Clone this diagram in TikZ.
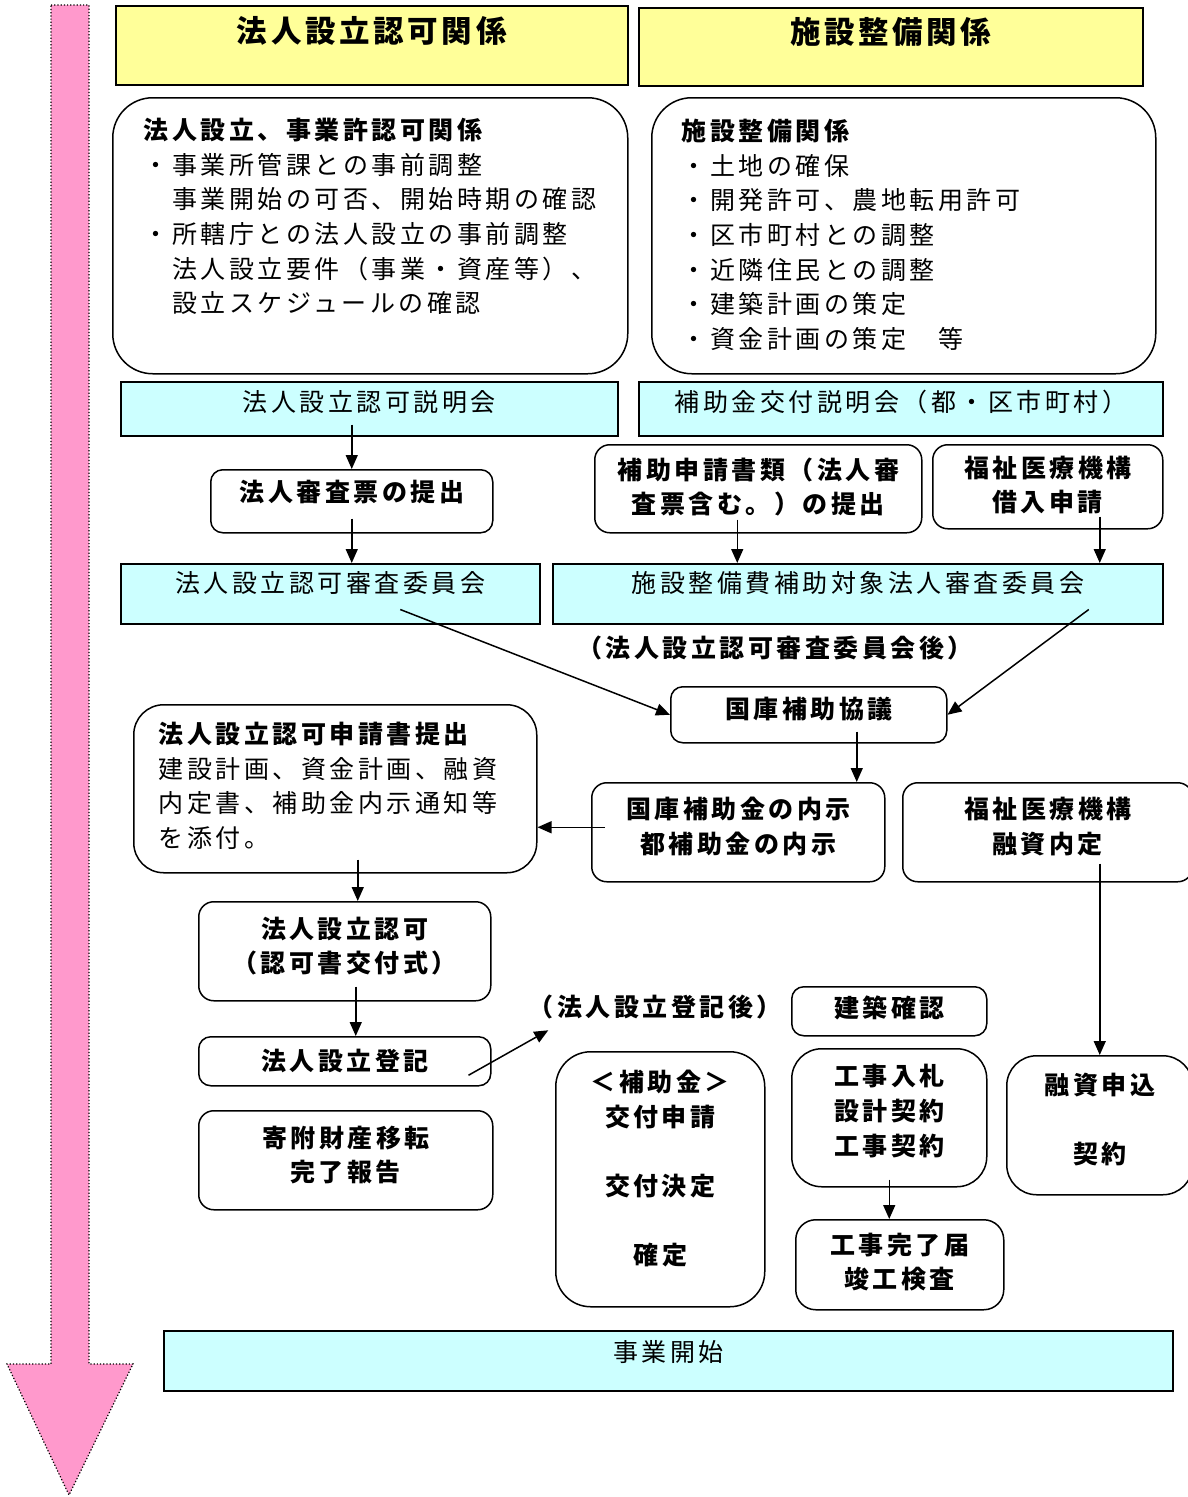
\documentclass[tikz,border=0pt]{standalone}
\usepackage{fontspec}
\setmainfont{Noto Sans CJK JP}[LetterSpace=14]
\newfontfamily\titlefont{Noto Sans CJK JP}[LetterSpace=12]
\usetikzlibrary{arrows.meta}
\definecolor{titleyellow}{RGB}{255,255,153}
\definecolor{meetingcyan}{RGB}{204,255,255}
\definecolor{flowpink}{RGB}{255,153,204}
\newcommand{\bodyfont}{\fontsize{25pt}{34.6pt}\selectfont}
% extra empty line of the given (negative) skip, lifts the text a little
\newcommand{\lift}[1]{\\[#1]\mbox{}}

\begin{document}
\begin{tikzpicture}[x=1pt, y=-1pt,
    every node/.style={font=\bodyfont},
    titlebox/.style={draw, line width=1.5pt, fill=titleyellow, anchor=north west, inner sep=0pt,
      font=\titlefont\fontsize{30.5pt}{34pt}\selectfont\bfseries, text height=26pt, text depth=31.6pt},
    meetbox/.style={draw, line width=1.5pt, fill=meetingcyan, anchor=north west, inner sep=0pt, text height=20.5pt},
    stepbox/.style={draw, line width=1.5pt, rounded corners=#1, anchor=north west, inner sep=0pt,
      align=center, font=\bodyfont\bfseries},
    stepbox/.default=15pt,
    notebox/.style={draw, line width=1.5pt, rounded corners=40pt, anchor=north west, inner ysep=0pt, align=left},
    later/.style={font=\bodyfont\bfseries, inner sep=0pt},
    flow/.style={line width=1.5pt, -{Triangle[length=14pt,width=12pt]}}]
    \useasboundingbox (0,0) rectangle (1188,1497);

    % time line
    \draw[fill=flowpink, dotted, line width=1.2pt] (51,5) -- (89,5) -- (89,1364) -- (133,1364)
        -- (69,1495) -- (7,1364) -- (51,1364) -- cycle;

    % headings
    \node[titlebox, minimum width=512pt, minimum height=79pt] (titleL) at (115,5) {法人設立認可関係};
    \node[titlebox, minimum width=504pt, minimum height=78pt] (titleR) at (638,7) {施設整備関係};

    % preparation
    \node[notebox, text width=453pt, inner xsep=31pt, minimum height=276pt] (kankeiL) at (112,97)
        {{\bfseries 法人設立、事業許認可関係}\\・事業所管課との事前調整\\　事業開始の可否、開始時期の確認\\
         ・所轄庁との法人設立の事前調整\\　法人設立要件（事業・資産等）、\\　設立スケジュールの確認\\\mbox{}\lift{-28.6pt}};
    \node[notebox, text width=444pt, inner xsep=30pt, minimum height=276pt] (kankeiR) at (651,97)
        {{\bfseries 施設整備関係}\\・土地の確保\\・開発許可、農地転用許可\\・区市町村との調整\\
         ・近隣住民との調整\\・建築計画の策定\\・資金計画の策定　等\lift{-30.6pt}};

    % briefings
    \node[meetbox, minimum width=497pt, minimum height=54pt, text depth=14.6pt] (setsumeiL) at (120,381) {法人設立認可説明会};
    \node[meetbox, minimum width=524pt, minimum height=54pt, text depth=14.6pt] (setsumeiR) at (638,381) {補助金交付説明会（都・区市町村）};

    \node[stepbox=12pt, minimum width=282pt, minimum height=63pt, text height=20.5pt, text depth=19.6pt] (shinsahyo) at (210,469) {法人審査票の提出};
    \node[stepbox, minimum width=327pt, minimum height=88pt] (hojoshinsei) at (594,444) {補助申請書類（法人審\\査票含む。）の提出\lift{-28.6pt}};
    \node[stepbox, minimum width=230pt, minimum height=84pt] (kariire) at (932,444) {福祉医療機構\\借入申請\lift{-28.6pt}};

    % committees
    \node[meetbox, minimum width=419pt, minimum height=60pt, text depth=22.6pt] (iinkaiL) at (120,563) {法人設立認可審査委員会};
    \node[meetbox, minimum width=610pt, minimum height=60pt, text depth=22.6pt] (iinkaiR) at (552,563) {施設整備費補助対象法人審査委員会};
    \node[later] (atoIinkai) at (775,648) {（法人設立認可審査委員会後）};

    \node[stepbox=12pt, minimum width=276pt, minimum height=56pt, text height=20.5pt, text depth=12.6pt] (kyogi) at (670,686) {国庫補助協議};
    \node[notebox, rounded corners=30pt, text width=353pt, inner xsep=25pt, minimum height=168pt] (shinseisho) at (133,704)
        {{\bfseries 法人設立認可申請書提出}\\建設計画、資金計画、融資\\内定書、補助金内示通知等\\を添付。\lift{-26.6pt}};
    \node[stepbox, minimum width=293pt, minimum height=99pt] (naiji) at (591,782) {国庫補助金の内示\\都補助金の内示\lift{-20.6pt}};
    \node[stepbox, minimum width=290pt, minimum height=99pt] (yushinaitei) at (902,782) {福祉医療機構\\融資内定\lift{-20.6pt}};

    % incorporation
    \node[stepbox, minimum width=292pt, minimum height=99pt] (ninka) at (198,901) {法人設立認可\\（認可書交付式）\lift{-21.6pt}};
    \node[stepbox=12pt, minimum width=292pt, minimum height=49pt] (toki) at (198,1036) {法人設立登記};
    \node[stepbox, minimum width=294pt, minimum height=99pt] (kifu) at (198,1110) {寄附財産移転\\完了報告\lift{-21.6pt}};
    \node[later] (atoToki) at (655,1007) {（法人設立登記後）};

    % construction
    \node[stepbox=12pt, minimum width=195pt, minimum height=49pt, text height=20.5pt, text depth=7.6pt] (kenchiku) at (791,986) {建築確認};
    \node[stepbox=35pt, minimum width=209pt, minimum height=255pt] (hojokin) at (555,1051)
        {＜補助金＞\\交付申請\\\mbox{}\\交付決定\\\mbox{}\\確定\lift{-10.6pt}};
    \node[stepbox=30pt, minimum width=195pt, minimum height=138pt] (koji) at (791,1048) {工事入札\\設計契約\\工事契約\lift{-18.6pt}};
    \node[stepbox=20pt, minimum width=208pt, minimum height=90pt] (kanryo) at (795,1219) {工事完了届\\竣工検査\lift{-26.6pt}};
    \node[stepbox=30pt, minimum width=186pt, minimum height=139pt] (yushimoshikomi) at (1006,1055) {融資申込\\\mbox{}\\契約\lift{-20.6pt}};

    \node[meetbox, minimum width=1009pt, minimum height=60pt, text depth=18.6pt] (kaishi) at (163,1330) {事業開始};

    % arrows
    \draw[flow] ([yshift=12pt]setsumeiL.south -| shinsahyo.north) -- (shinsahyo.north);
    \draw[flow] ([yshift=15pt]shinsahyo.south) -- (shinsahyo.south |- iinkaiL.north);
    \draw[flow] ([xshift=-21pt,yshift=14pt]hojoshinsei.south) -- ([xshift=-21pt]hojoshinsei.south |- iinkaiR.north);
    \draw[flow] ([xshift=52pt,yshift=13pt]kariire.south) -- ([xshift=52pt]kariire.south |- iinkaiR.north);
    \draw[flow] ([xshift=70pt,yshift=15pt]iinkaiL.south) -- (kyogi.west);
    \draw[flow] ([xshift=231pt,yshift=15pt]iinkaiR.south) -- (kyogi.east);
    \draw[flow] ([xshift=48pt,yshift=12pt]kyogi.south) -- ([xshift=48pt]kyogi.south |- naiji.north);
    \draw[flow] ([xshift=14pt,yshift=5pt]naiji.west) -- ([yshift=5pt]naiji.west -| shinseisho.east);
    \draw[flow] ([yshift=19pt]yushinaitei.south -| yushimoshikomi.north) -- (yushimoshikomi.north);
    \draw[flow] ([xshift=13pt,yshift=14pt]shinseisho.south -| ninka.north) -- ([xshift=13pt]ninka.north);
    \draw[flow] ([xshift=11pt,yshift=15pt]ninka.south) -- ([xshift=11pt]ninka.south |- toki.north);
    \draw[flow] ([xshift=-23pt,yshift=-14pt]toki.east) -- ([xshift=20pt,yshift=-11pt]atoToki.south west);
    \draw[flow] ([yshift=8pt]koji.south) -- (koji.south |- kanryo.north);
\end{tikzpicture}
\end{document}
